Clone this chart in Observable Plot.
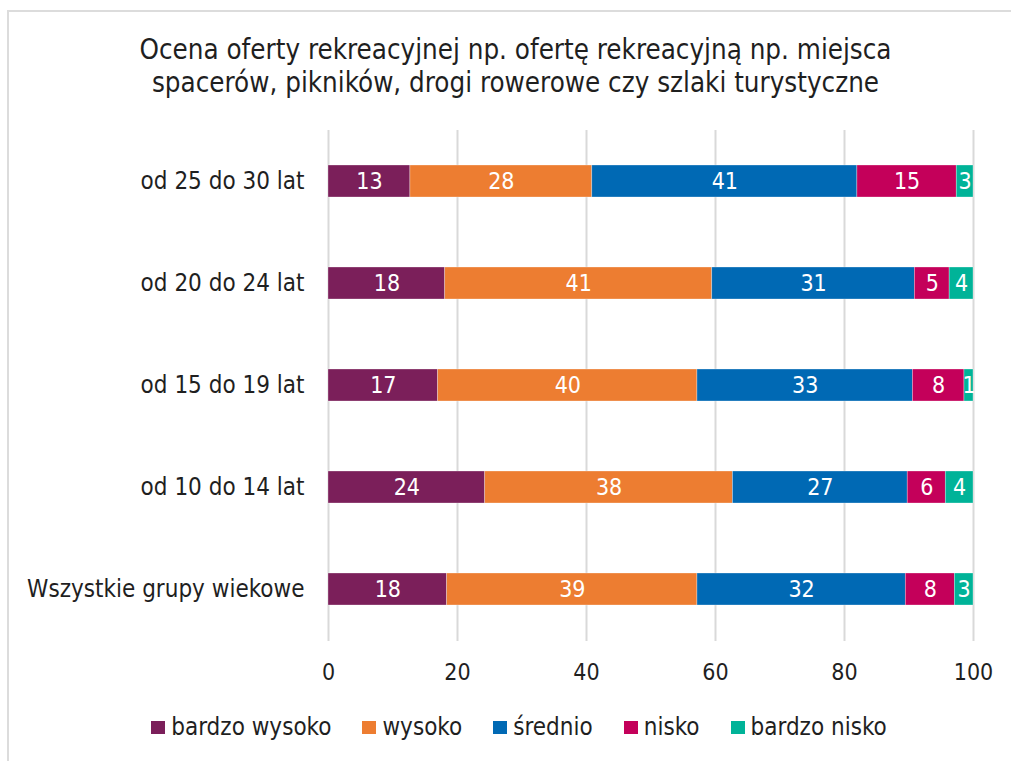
<!DOCTYPE html>
<html>
<head>
<meta charset="utf-8">
<script src="https://cdn.jsdelivr.net/npm/d3@7"></script>
<script src="https://cdn.jsdelivr.net/npm/@observablehq/plot@0.6"></script>
<style>
  html, body { margin: 0; padding: 0; background: #fff; }
  body { width: 1011px; height: 761px; position: relative; overflow: hidden;
         font-family: "Liberation Sans Narrow", "DejaVu Sans Condensed", "Roboto Condensed", Roboto, sans-serif; color: #1f1f1f; }
  #frame { position: absolute; left: 7px; top: 10px; right: -4px; bottom: -4px;
           border-left: 2px solid #dcdcdc; border-top: 2px solid #dcdcdc; }
  #title { position: absolute; left: 0; width: 1011px; top: 33px; text-align: center;
           font-size: 27.5px; line-height: 33px; padding-left: 20px; box-sizing: border-box; }
  #chart { position: absolute; left: 0; top: 0; }
  #legend { position: absolute; left: 0; top: 714px; width: 1011px; height: 26px;
            display: flex; justify-content: center; align-items: center; padding-left: 27px; box-sizing: border-box;
            font-size: 24px; }
  .item { display: flex; align-items: center; margin: 0 15.5px; }
  .sw { width: 14px; height: 13px; margin-right: 6px; }
</style>
</head>
<body>
<div id="frame"></div>
<div id="chart"></div>
<div id="title">Ocena oferty rekreacyjnej np. ofertę rekreacyjną np. miejsca<br>spacerów, pikników, drogi rowerowe czy szlaki turystyczne</div>
<div id="legend"></div>
<script>
const categories = ["od 25 do 30 lat", "od 20 do 24 lat", "od 15 do 19 lat", "od 10 do 14 lat", "Wszystkie grupy wiekowe"];
const seriesNames = ["bardzo wysoko", "wysoko", "średnio", "nisko", "bardzo nisko"];
const bardzoWysoko = [12.7, 18.1, 17.0, 24.3, 18.4];
const wysoko       = [28.2, 41.4, 40.2, 38.4, 38.8];
const srednio      = [41.1, 31.4, 33.4, 27.1, 32.3];
const nisko        = [15.4, 5.4, 8.0, 5.9, 7.6];
const bardzoNisko  = [2.6, 3.7, 1.4, 4.3, 2.9];
const xTicks = [0, 20, 40, 60, 80, 100];
const colors = ["#7b1f5a", "#ed7d31", "#0069b4", "#c4005a", "#00b398"];

const seriesValues = [bardzoWysoko, wysoko, srednio, nisko, bardzoNisko];
const rows = [];
categories.forEach((c, i) => {
  seriesNames.forEach((s, j) => {
    rows.push({category: c, series: s, value: seriesValues[j][i]});
  });
});

const fontStack = getComputedStyle(document.body).fontFamily;

const plot = Plot.plot({
  width: 1011,
  height: 700,
  marginLeft: 328,
  marginRight: 38,
  marginTop: 130,
  marginBottom: 59,
  style: {fontFamily: fontStack, fontSize: "24px", color: "#1f1f1f", background: "transparent"},
  x: {domain: [0, 100]},
  y: {domain: categories, paddingInner: 0.686, paddingOuter: 0.343},
  color: {domain: seriesNames, range: colors},
  marks: [
    Plot.ruleX(xTicks, {stroke: "#d9d9d9", strokeWidth: 2}),
    Plot.barX(rows, Plot.stackX({x: "value", y: "category", fill: "series", z: "series", stroke: "white", strokeWidth: 0.6, strokeOpacity: 0.5})),
    Plot.text(rows, Plot.stackX({x: "value", y: "category", z: "series", text: d => String(Math.round(d.value)), fill: "white", fontSize: 23})),
    Plot.axisX({ticks: xTicks, tickSize: 0, tickPadding: 22, label: null, fontSize: 23}),
    Plot.axisY({tickSize: 0, tickPadding: 24, label: null, fontSize: 24})
  ]
});
document.getElementById("chart").appendChild(plot);

const legend = document.getElementById("legend");
seriesNames.forEach((s, j) => {
  const item = document.createElement("div");
  item.className = "item";
  const sw = document.createElement("span");
  sw.className = "sw";
  sw.style.background = colors[j];
  const t = document.createElement("span");
  t.textContent = s;
  item.appendChild(sw);
  item.appendChild(t);
  legend.appendChild(item);
});
</script>
</body>
</html>
